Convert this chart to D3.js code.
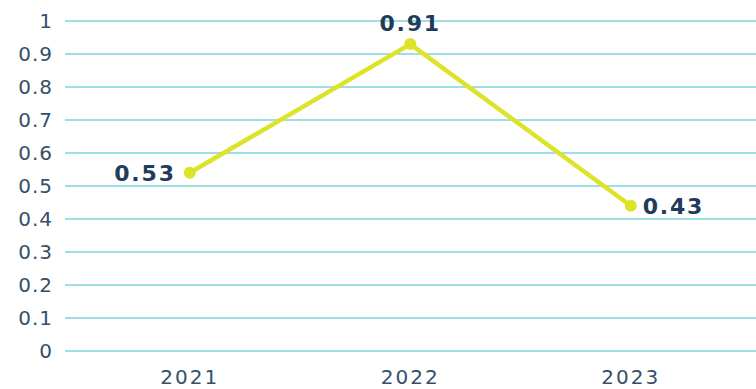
<!DOCTYPE html>
<html><head><meta charset="utf-8">
<script src="https://cdn.jsdelivr.net/npm/d3@7"></script>
<style>body{margin:0;background:#fff}svg{display:block}</style>
</head><body><svg id="c" width="756" height="389"></svg>
<script>
const categories = ["2021", "2022", "2023"];
const values = [0.54, 0.93, 0.44];
const labels = ["0.53", "0.91", "0.43"];
const yTicks = [0, 0.1, 0.2, 0.3, 0.4, 0.5, 0.6, 0.7, 0.8, 0.9, 1];
const yTickLabels = ["0", "0.1", "0.2", "0.3", "0.4", "0.5", "0.6", "0.7", "0.8", "0.9", "1"];

const svg = d3.select("#c");
const font = "'DejaVu Sans', sans-serif";
const x = d3.scaleBand().domain(categories).range([79.5, 741]);
const y = d3.scaleLinear().domain([0, 1]).range([351, 21]);

// gridlines
svg.append("g").selectAll("line").data(yTicks).join("line")
  .attr("x1", 65).attr("x2", 756)
  .attr("y1", d => y(d)).attr("y2", d => y(d))
  .attr("stroke", "#7dd3df").attr("stroke-width", 1.6);

// y labels
svg.append("g").selectAll("text").data(yTicks).join("text")
  .attr("x", 53).attr("y", d => y(d)).attr("dy", "0.36em")
  .attr("text-anchor", "end")
  .attr("font-family", font).attr("font-size", 20).attr("fill", "#34506a")
  .attr("letter-spacing", 1)
  .text((d, i) => yTickLabels[i]);

// x labels
svg.append("g").selectAll("text").data(categories).join("text")
  .attr("x", d => x(d) + x.bandwidth() / 2).attr("y", 384)
  .attr("text-anchor", "middle")
  .attr("font-family", font).attr("font-size", 20).attr("fill", "#34506a")
  .attr("letter-spacing", 2)
  .text(d => d);

const pts = categories.map((c, i) => ({c, v: values[i], l: labels[i], i}));
const line = d3.line().x(d => x(d.c) + x.bandwidth() / 2).y(d => y(d.v));
svg.append("path").datum(pts).attr("d", line)
  .attr("fill", "none").attr("stroke", "#dde328").attr("stroke-width", 4.5)
  .attr("stroke-linejoin", "round");
svg.append("g").selectAll("circle").data(pts).join("circle")
  .attr("cx", d => x(d.c) + x.bandwidth() / 2).attr("cy", d => y(d.v))
  .attr("r", 6).attr("fill", "#dde328");

// data labels
const pos = [
  {dx: -14, dy: 0, anchor: "end", base: "0.36em"},
  {dx: 0, dy: -13, anchor: "middle", base: "0"},
  {dx: 12, dy: 0, anchor: "start", base: "0.36em"}
];
svg.append("g").selectAll("text").data(pts).join("text")
  .attr("x", d => x(d.c) + x.bandwidth() / 2 + pos[d.i].dx)
  .attr("y", d => y(d.v) + pos[d.i].dy)
  .attr("dy", d => pos[d.i].base)
  .attr("text-anchor", d => pos[d.i].anchor)
  .attr("font-family", font).attr("font-size", 22).attr("font-weight", "bold")
  .attr("letter-spacing", 1.8)
  .attr("fill", "#1f3d5b")
  .text(d => d.l);
</script></body></html>
